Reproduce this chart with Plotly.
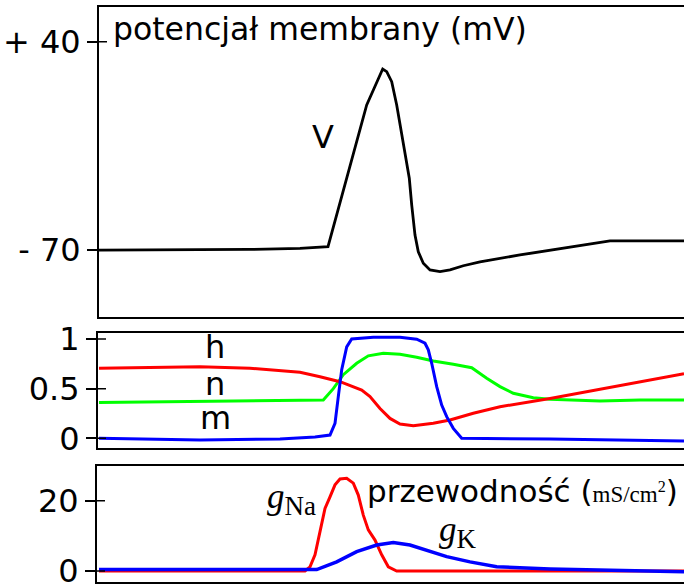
import plotly.graph_objects as go

# ---------------- data (time in arbitrary units) ----------------
v_t = [0, 10, 15, 20.1, 22.9, 26.77, 27.6, 28.37, 28.77, 29.27, 29.77, 30.43, 31.03,
       31.27, 31.6, 31.93, 32.43, 33.1, 34.1, 35.1, 36.43, 38.1, 40.1, 42.1, 51.1, 58.5]
v_mv = [-70, -70, -69.7, -69.1, -68.2, 6.6, 16.2, 25.6, 24.2, 18.9, 6.6, -12.8, -32.1,
        -46.2, -62.1, -70.9, -77, -80.5, -81.4, -80.5, -78.3, -76.2, -74.4, -72.6, -65.2, -65.2]

m_t = [0, 10.1, 18.1, 21.6, 23.1, 23.6, 23.93, 24.27, 24.77, 25.27, 27.43, 30.1, 31.77,
       32.6, 32.93, 33.27, 33.77, 34.27, 34.77, 35.43, 36.27, 45.1, 58.5]
m_val = [0.0, -0.017, -0.007, 0.013, 0.033, 0.15, 0.42, 0.69, 0.92, 1.0, 1.017, 1.017, 0.997,
         0.957, 0.89, 0.755, 0.52, 0.335, 0.218, 0.1, 0.0, -0.007, -0.027]

h_t = [0, 5.1, 10.1, 15.1, 20.1, 22.1, 24.1, 26.27, 27.1, 28.1, 29.1, 30.1, 31.43,
       33.43, 35.1, 37.43, 40.1, 45.1, 58.5]
h_val = [0.705, 0.715, 0.72, 0.705, 0.665, 0.62, 0.57, 0.486, 0.42, 0.30, 0.20, 0.144, 0.127,
         0.151, 0.184, 0.252, 0.318, 0.40, 0.65]

n_t = [0, 22.43, 23.43, 24.43, 25.77, 26.93, 28.43, 30.1, 31.77, 33.43, 35.43, 37.27,
       38.77, 40.1, 41.43, 43.43, 45.1, 50.1, 54.1, 58.5]
n_val = [0.36, 0.386, 0.50, 0.64, 0.755, 0.83, 0.856, 0.846, 0.816, 0.778, 0.745, 0.71,
         0.604, 0.52, 0.453, 0.409, 0.393, 0.375, 0.385, 0.385]

gna_t = [0, 20.6, 21.1, 21.6, 22.1, 22.6, 23.1, 23.6, 24.1, 24.77, 25.43, 25.93, 26.43,
         26.93, 27.6, 28.27, 28.93, 29.77, 58.5]
gna_val = [0, 0, 1.2, 4.6, 11.2, 17.8, 21.1, 24.5, 26.2, 26.4, 25.0, 21.6, 15.9,
           11.7, 8.8, 4.6, 1.2, 0, 0]

gk_t = [0, 21.77, 23.77, 25.77, 27.77, 29.43, 31.1, 33.1, 34.77, 37.1, 39.77, 45.1, 58.5]
gk_val = [0.4, 0.4, 2.6, 5.5, 7.4, 8.1, 7.4, 5.5, 4.1, 2.6, 1.2, 0.6, -0.2]

v_ticks = [40, -70]
v_ticktext = ["+ 40", "- 70"]
gate_ticks = [0, 0.5, 1]
gate_ticktext = ["0", "0.5", "1"]
g_ticks = [0, 20]
g_ticktext = ["0", "20"]

W, H = 684, 585
SANS = "DejaVu Sans"
SERIF = "Liberation Serif"

fig = go.Figure()
fig.add_trace(go.Scatter(x=v_t, y=v_mv, mode="lines", line=dict(color="black", width=2.8),
                         xaxis="x", yaxis="y", showlegend=False))
fig.add_trace(go.Scatter(x=n_t, y=n_val, mode="lines", line=dict(color="#00ff00", width=3),
                         xaxis="x2", yaxis="y2", showlegend=False))
fig.add_trace(go.Scatter(x=h_t, y=h_val, mode="lines", line=dict(color="#ff0000", width=3),
                         xaxis="x2", yaxis="y2", showlegend=False))
fig.add_trace(go.Scatter(x=m_t, y=m_val, mode="lines", line=dict(color="#0000ff", width=3),
                         xaxis="x2", yaxis="y2", showlegend=False))
fig.add_trace(go.Scatter(x=gna_t, y=gna_val, mode="lines", line=dict(color="#ff0000", width=3),
                         xaxis="x3", yaxis="y3", showlegend=False))
fig.add_trace(go.Scatter(x=gk_t, y=gk_val, mode="lines", line=dict(color="#0000ff", width=3.5),
                         xaxis="x3", yaxis="y3", showlegend=False))


def px_x(p):
    return p / W


def px_y(p):
    return 1 - p / H


xcommon = dict(showline=True, mirror=True, linecolor="black", linewidth=2, ticks="",
               showticklabels=False, showgrid=False, zeroline=False, fixedrange=True,
               automargin=False)
ycommon = dict(showline=True, mirror=False, linecolor="black", linewidth=2, ticks="outside",
               ticklen=10, tickwidth=1.5, tickcolor="black", showgrid=False, zeroline=False,
               tickfont=dict(family=SANS, size=32, color="black"), tickmode="array",
               automargin=False, fixedrange=True, ticklabeloverflow="allow")

fig.update_layout(
    template="none",
    width=W, height=H, margin=dict(l=0, r=0, t=0, b=0, pad=0), autosize=False,
    paper_bgcolor="white", plot_bgcolor="white",
    xaxis=dict(domain=[px_x(99), 1], range=[0, 58.5], anchor="y", **xcommon),
    yaxis=dict(domain=[px_y(316.7), px_y(6.7)], range=[-105.2, 58.5], anchor="x",
               tickvals=v_ticks, ticktext=v_ticktext, **ycommon),
    xaxis2=dict(domain=[px_x(98), 1], range=[-0.1, 58.5], anchor="y2", **xcommon),
    yaxis2=dict(domain=[px_y(448.3), px_y(332.7)], range=[-0.1007, 1.063], anchor="x2",
                tickvals=gate_ticks, ticktext=gate_ticktext, **ycommon),
    xaxis3=dict(domain=[px_x(97), 1], range=[-0.2, 58.5], anchor="y3", **xcommon),
    yaxis3=dict(domain=[px_y(581.7), px_y(465.7)], range=[-3.04, 29.96], anchor="x3",
                tickvals=g_ticks, ticktext=g_ticktext, **ycommon),
)

# inward half of the crossing tick marks
shapes = []
for xr, yr, vals, wpx in [("x", "y", v_ticks, 585), ("x2", "y2", gate_ticks, 586),
                          ("x3", "y3", g_ticks, 587)]:
    for v in vals:
        shapes.append(dict(type="line", xref=f"{xr} domain", yref=yr, x0=0, x1=8 / wpx,
                           y0=v, y1=v, line=dict(color="black", width=1.5)))
fig.update_layout(shapes=shapes)

ann = []


def add_text(text, x, y, size, family=SANS, xanchor="center", yanchor="middle"):
    ann.append(dict(text=text, x=px_x(x), y=px_y(y), xref="paper", yref="paper",
                    xanchor=xanchor, yanchor=yanchor, showarrow=False,
                    font=dict(family=family, size=size, color="black")))


add_text("potencjał membrany (mV)", 111, 28.5, 31.5, xanchor="left")
add_text("V", 322.5, 137.3, 32)
add_text("h", 215, 347.3, 32)
add_text("n", 215, 384, 32)
add_text("m", 215, 418.3, 32)
add_text("<i>g</i><sub><span style='font-size:27px'>Na</span></sub>", 265, 499, 35,
         family=SERIF, xanchor="left")
add_text("<i>g</i><sub><span style='font-size:27px'>K</span></sub>", 437, 532, 35,
         family=SERIF, xanchor="left")
add_text("przewodność (<span style='font-family:Liberation Serif;font-size:23px'>mS/cm<sup>2</sup></span>)",
         365, 491, 31, xanchor="left")
fig.update_layout(annotations=ann)

fig.write_html("out.html", config={"displayModeBar": False},
               post_script="document.body.style.margin='0';document.body.style.overflow='hidden';")
